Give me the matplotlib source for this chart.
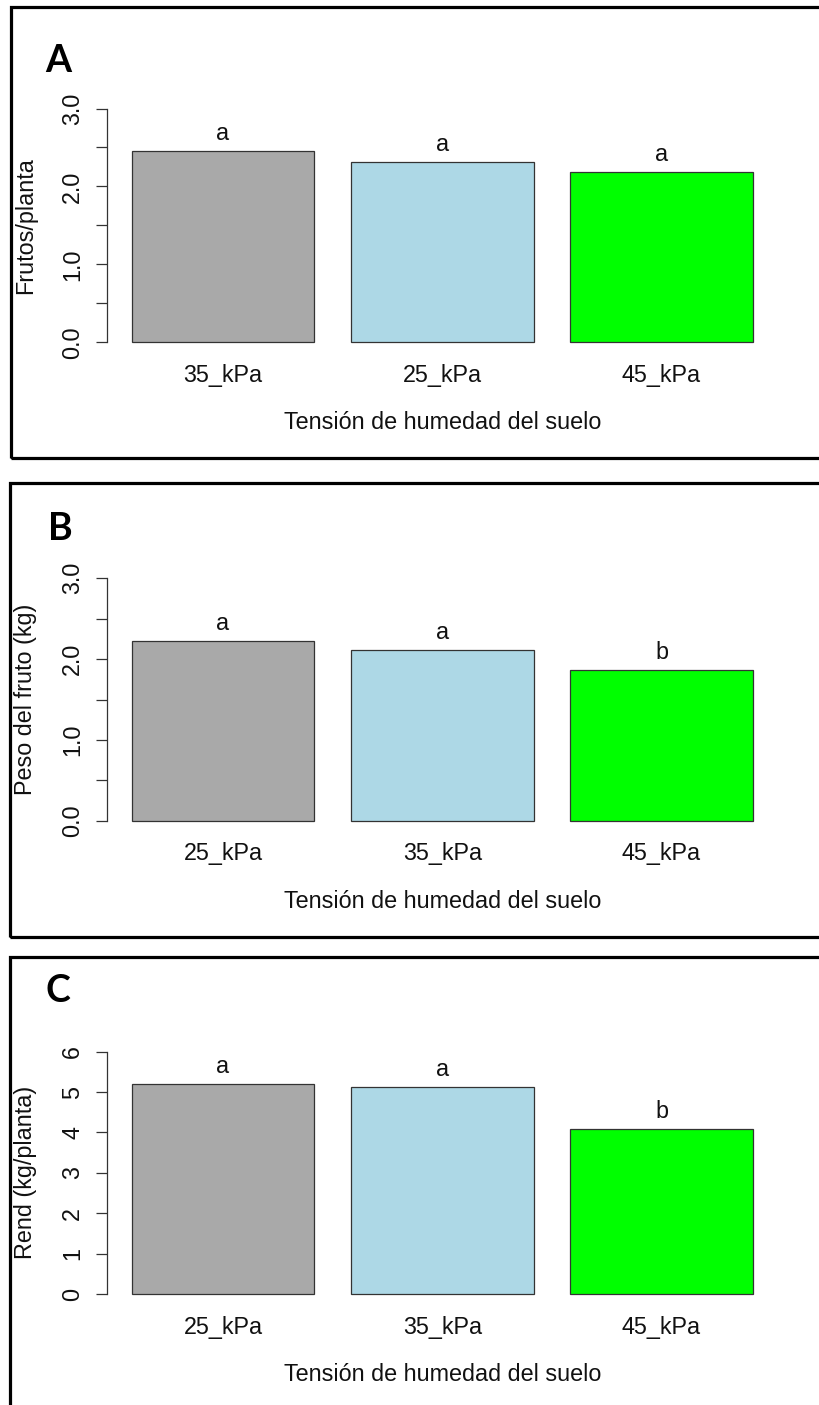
import matplotlib
matplotlib.use("Agg")
import matplotlib.pyplot as plt
from matplotlib.patches import Rectangle

# ---------------- data ----------------
treat_A = ["35_kPa", "25_kPa", "45_kPa"]
frutos_planta = [2.45, 2.31, 2.18]
letters_A = ["a", "a", "a"]

treat_BC = ["25_kPa", "35_kPa", "45_kPa"]
peso_fruto = [2.23, 2.11, 1.86]
letters_B = ["a", "a", "b"]

rendimiento = [5.19, 5.12, 4.08]
letters_C = ["a", "a", "b"]

bar_colors = ["#A9A9A9", "#ADD8E6", "#00FF00"]

yticks_AB = [0.0, 0.5, 1.0, 1.5, 2.0, 2.5, 3.0]
yticklabels_AB = ["0.0", "", "1.0", "", "2.0", "", "3.0"]
yticks_C = [0, 1, 2, 3, 4, 5, 6]
yticklabels_C = ["0", "1", "2", "3", "4", "5", "6"]

xlabel = "Tensión de humedad del suelo"

# ---------------- layout ----------------
W, H = 820, 1405
DPI = 100
fig = plt.figure(figsize=(W / DPI, H / DPI), dpi=DPI, facecolor="white")

FONT = ["Liberation Sans", "DejaVu Sans"]
plt.rcParams["font.family"] = FONT
FS = 16.8
TXT = "#111111"
PT = 72.0 / DPI  # points per pixel

AX_L, AX_R = 106.8, 777.7

panels = [
    dict(tag="A", cats=treat_A, vals=frutos_planta, lets=letters_A,
         ylabel="Frutos/planta", ymax=3.0, yt=yticks_AB, ytl=yticklabels_AB,
         top_px=108.5, zero_px=342.3, border=(11, 7, 458), tagpos=(58.5, 61.5)),
    dict(tag="B", cats=treat_BC, vals=peso_fruto, lets=letters_B,
         ylabel="Peso del fruto (kg)", ymax=3.0, yt=yticks_AB, ytl=yticklabels_AB,
         top_px=578.3, zero_px=820.7, border=(10, 483.5, 937), tagpos=(60, 528.5)),
    dict(tag="C", cats=treat_BC, vals=rendimiento, lets=letters_C,
         ylabel="Rend (kg/planta)", ymax=6.0, yt=yticks_C, ytl=yticklabels_C,
         top_px=1051.7, zero_px=1294.0, border=(10.5, 957, 1425), tagpos=(57.5, 991)),
]

for p in panels:
    ext = 0.04 * (p["zero_px"] - p["top_px"])
    t_px = p["top_px"] - ext
    b_px = p["zero_px"] + ext
    ax_h = b_px - t_px
    ax_w = AX_R - AX_L
    ax = fig.add_axes([AX_L / W, 1 - b_px / H, ax_w / W, ax_h / H])
    ax.set_facecolor("none")

    x = list(range(len(p["cats"])))
    ax.bar(x, p["vals"], width=1 / 1.2, color=bar_colors,
           edgecolor="#333333", linewidth=0.9)
    for xi, v, l in zip(x, p["vals"], p["lets"]):
        ax.annotate(l, (xi, v), xytext=(0, 11 * PT), textcoords="offset points",
                    ha="center", va="baseline", fontsize=FS, color=TXT)

    ax.set_xlim(-0.53, 2.53)
    ym = p["ymax"]
    ax.set_ylim(-0.04 * ym, 1.04 * ym)

    for s in ("top", "right", "bottom"):
        ax.spines[s].set_visible(False)
    ax.spines["left"].set_bounds(0, ym)
    ax.spines["left"].set_linewidth(0.9)
    ax.spines["left"].set_color("#333333")

    ax.set_yticks(p["yt"], p["ytl"])
    ax.tick_params(axis="y", length=11.5 * PT, width=0.9, color="#333333",
                   pad=11 * PT, labelsize=FS, labelcolor=TXT, labelrotation=90)
    for lab in ax.get_yticklabels():
        lab.set_va("center")
        lab.set_ha("right")

    ax.set_xticks(x, p["cats"])
    ax.tick_params(axis="x", length=0, pad=30 * PT, labelsize=FS, labelcolor=TXT)
    for lab in ax.get_xticklabels():
        lab.set_va("baseline")

    ax.set_xlabel(xlabel, fontsize=FS, color=TXT, va="baseline")
    ax.xaxis.set_label_coords(0.5, -77.5 / ax_h)
    ax.set_ylabel(p["ylabel"], fontsize=FS, color=TXT, va="center")
    ax.yaxis.set_label_coords((26 - AX_L) / ax_w, 0.5)

    l, t, b = p["border"]
    r = W + 20
    fig.add_artist(Rectangle((l / W, 1 - b / H), (r - l) / W, (b - t) / H,
                             transform=fig.transFigure, fill=False,
                             edgecolor="black", linewidth=3.2 * PT, clip_on=False))
    fig.text(p["tagpos"][0] / W, 1 - p["tagpos"][1] / H, p["tag"],
             ha="center", va="center", fontsize=27, fontweight="bold",
             family=["Lato", "DejaVu Sans"], color="black")

fig.savefig("out.png", dpi=DPI, facecolor="white")
